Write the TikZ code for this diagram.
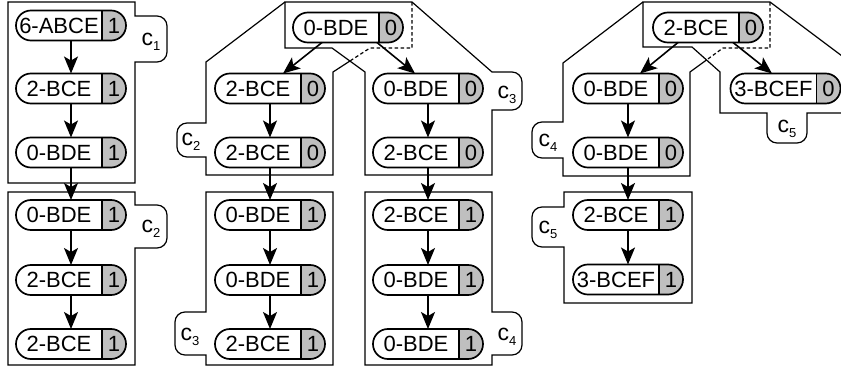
\documentclass[tikz,border=0pt]{standalone}
\usepackage{fontspec}
\setmainfont{Liberation Sans}
\usetikzlibrary{arrows.meta,calc}
\newcommand{\pl}[2]{\makebox[86pt]{#1}\makebox[24pt]{#2}}
\newcommand{\cl}[1]{c\raisebox{-5pt}{\fontsize{13pt}{13pt}\selectfont #1}}
\begin{document}
\begin{tikzpicture}[x=1pt,y=-1pt,
 pill/.style={draw, line width=1.7pt, rectangle, rounded corners=14.9pt, inner sep=0pt, outer sep=0pt,
   minimum height=30pt, minimum width=110pt, font=\fontsize{22pt}{24pt}\selectfont,
   path picture={
   \fill[gray!50, sharp corners] ([xshift=-24pt]path picture bounding box.north east) rectangle (path picture bounding box.south east);
   \draw[line width=1.5pt, sharp corners] ([xshift=-24pt]path picture bounding box.north east) -- ([xshift=-24pt]path picture bounding box.south east);}},
 grp/.style={line width=1.2pt, line join=miter, draw=black},
 grpd/.style={grp, dash pattern=on 3.5pt off 2.5pt},
 lab/.style={font=\fontsize{23pt}{24pt}\selectfont, inner sep=0pt},
 arr/.style={line width=1.6pt, -{Stealth[length=17pt,width=14pt,inset=4pt]}}
]
\clip (0,0) rectangle (841,372);
% ---------- group outlines ----------
% left column
\draw[grp] (8,2) -- (135,2) -- (135,16) -- (157,16) arc(-90:0:10) -- (167,52) arc(0:90:10) -- (135,62) -- (135,183) -- (8,183) -- cycle;
\draw[grp] (8,192) -- (135,192) -- (135,205) -- (157,205) arc(-90:0:10) -- (167,238) arc(0:90:10) -- (135,248) -- (135,365) -- (8,365) -- cycle;
% middle upper c3
\draw[grp] (285,2) -- (412,2) -- (492,72) -- (512,72) arc(-90:0:10) -- (522,100) arc(0:90:10) -- (492,110) -- (492,175) -- (365,175) -- (365,72) -- (332,48) -- (285,48) -- cycle;
% middle upper c2
\coordinate (mX) at (intersection of 333,72--370,48 and 332,48--365,72);
\draw[grp] (mX) -- (333,72) -- (333,175) -- (206,175) -- (206,157) -- (187,157) arc(90:180:10) -- (177,133) arc(180:270:10) -- (206,123) -- (206,62) -- (285,2);
\draw[grpd] (412,2) -- (412,48) -- (370,48) -- (mX);
% middle lower
\draw[grp] (206,192) -- (333,192) -- (333,365) -- (206,365) -- (206,355) -- (185,355) arc(90:180:10) -- (175,322) arc(180:270:10) -- (206,312) -- cycle;
\draw[grp] (365,192) -- (492,192) -- (492,312) -- (512,312) arc(-90:0:10) -- (522,345) arc(0:90:10) -- (492,355) -- (492,365) -- (365,365) -- cycle;
% right upper c5
\draw[grp] (643,2) -- (770,2) -- (850,62) -- (850,113) -- (807,113) -- (807,133) arc(0:90:10) -- (777,143) arc(90:180:10) -- (767,113) -- (720,113) -- (720,72) -- (692,47) -- (643,47) -- cycle;
% right upper c4
\coordinate (rX) at (intersection of 690,72--723,48 and 692,47--720,72);
\draw[grp] (rX) -- (690,72) -- (690,176) -- (563,176) -- (563,158) -- (542,158) arc(90:180:10) -- (532,132) arc(180:270:10) -- (563,122) -- (563,63) -- (643,2);
\draw[grpd] (770,2) -- (770,48) -- (723,48) -- (rX);
% right lower c5
\draw[grp] (564,192) -- (692,192) -- (692,303) -- (564,303) -- (564,247) -- (542,247) arc(90:180:10) -- (532,217) arc(180:270:10) -- (564,207) -- cycle;
% ---------- labels ----------
\node[lab] (l1) at (151,42) {\cl{1}};
\node[lab] (l2) at (151,229) {\cl{2}};
\node[lab] (l3) at (191,142) {\cl{2}};
\node[lab] (l4) at (507,95) {\cl{3}};
\node[lab] (l5) at (190,337) {\cl{3}};
\node[lab] (l6) at (507,337) {\cl{4}};
\node[lab] (l7) at (548,143) {\cl{4}};
\node[lab] (l8) at (787,129) {\cl{5}};
\node[lab] (l9) at (548,230) {\cl{5}};
% ---------- nodes ----------
\node[pill] (a1) at (71,25.5) {\pl{6-ABCE}{1}};
\node[pill] (a2) at (71,88.5) {\pl{2-BCE}{1}};
\node[pill] (a3) at (71,152.5) {\pl{0-BDE}{1}};
\node[pill] (a4) at (71,215) {\pl{0-BDE}{1}};
\node[pill] (a5) at (71,280) {\pl{2-BCE}{1}};
\node[pill] (a6) at (71,344) {\pl{2-BCE}{1}};
\node[pill] (m0) at (348,27.5) {\pl{0-BDE}{0}};
\node[pill] (mL1) at (270,88.5) {\pl{2-BCE}{0}};
\node[pill] (mL2) at (270,152.5) {\pl{2-BCE}{0}};
\node[pill] (mL3) at (270,215) {\pl{0-BDE}{1}};
\node[pill] (mL4) at (270,280) {\pl{0-BDE}{1}};
\node[pill] (mL5) at (270,344) {\pl{2-BCE}{1}};
\node[pill] (mR1) at (428,88.5) {\pl{0-BDE}{0}};
\node[pill] (mR2) at (428,152.5) {\pl{2-BCE}{0}};
\node[pill] (mR3) at (428,215) {\pl{2-BCE}{1}};
\node[pill] (mR4) at (428,280) {\pl{0-BDE}{1}};
\node[pill] (mR5) at (428,344) {\pl{0-BDE}{1}};
\node[pill] (r0) at (708,27.5) {\pl{2-BCE}{0}};
\node[pill] (rR) at (785.5,88.5) {\pl{3-BCEF}{0}};
\node[pill] (rL1) at (628,88.5) {\pl{0-BDE}{0}};
\node[pill] (rL2) at (628,152.5) {\pl{0-BDE}{0}};
\node[pill] (rL3) at (628,215) {\pl{2-BCE}{1}};
\node[pill] (rL4) at (628,279.5) {\pl{3-BCEF}{1}};
% ---------- arrows ----------
\draw[arr] (a1.south) -- (a2.north);
\draw[arr] (a2.south) -- (a3.north);
\draw[arr] (a3.south) -- (a4.north);
\draw[arr] (a4.south) -- (a5.north);
\draw[arr] (a5.south) -- (a6.north);
\draw[arr] ([xshift=-26pt]m0.south) -- ([xshift=13pt]mL1.north);
\draw[arr] ([xshift=29pt]m0.south) -- ([xshift=-13pt]mR1.north);
\draw[arr] (mL1.south) -- (mL2.north);
\draw[arr] (mL2.south) -- (mL3.north);
\draw[arr] (mL3.south) -- (mL4.north);
\draw[arr] (mL4.south) -- (mL5.north);
\draw[arr] (mR1.south) -- (mR2.north);
\draw[arr] (mR2.south) -- (mR3.north);
\draw[arr] (mR3.south) -- (mR4.north);
\draw[arr] (mR4.south) -- (mR5.north);
\draw[arr] ([xshift=-30pt]r0.south) -- ([xshift=12pt]rL1.north);
\draw[arr] ([xshift=25pt]r0.south) -- ([xshift=-13.5pt]rR.north);
\draw[arr] (rL1.south) -- (rL2.north);
\draw[arr] (rL2.south) -- (rL3.north);
\draw[arr] (rL3.south) -- (rL4.north);
\end{tikzpicture}
\end{document}
